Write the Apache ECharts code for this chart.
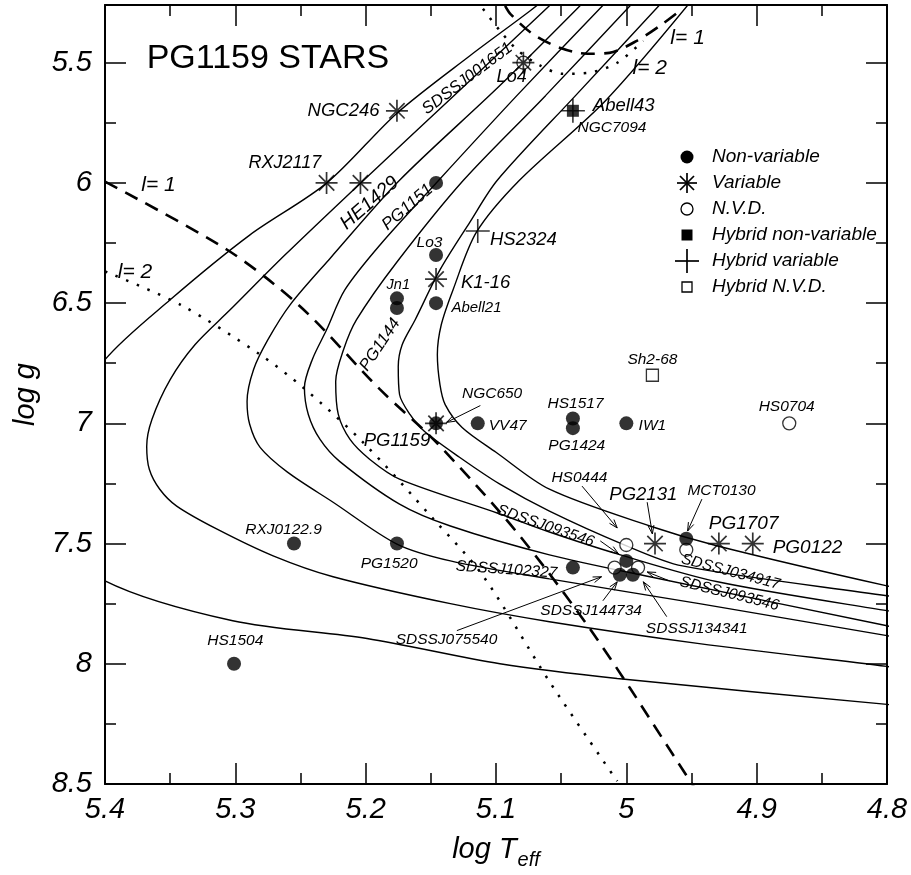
<!DOCTYPE html>
<html>
<head>
<meta charset="utf-8">
<title>PG1159 stars</title>
<script src="https://cdn.jsdelivr.net/npm/echarts@6/dist/echarts.min.js"></script>
<style>
  html, body { margin: 0; padding: 0; background: #fff; }
  #chart { width: 911px; height: 875px; }
</style>
</head>
<body>
<div id="chart"></div>
<script>
const FONT = '"Liberation Sans", Arial, Helvetica, sans-serif';

// evolutionary tracks, [log Teff, log g] (outermost first)
const trackA = [[5.055,5.202],[5.074,5.285],[5.120,5.471],[5.176,5.710],[5.230,6.001],[5.289,6.217],[5.350,6.486],[5.400,6.735],[5.427,6.984],[5.433,7.232],[5.427,7.481],[5.400,7.655],[5.302,7.821],[5.199,7.895],[5.097,8.000],[5.007,8.061],[4.800,8.169],[4.790,8.173]];
const trackB = [[5.051,5.222],[5.128,5.616],[5.204,6.001],[5.262,6.300],[5.304,6.528],[5.331,6.673],[5.350,6.818],[5.364,6.984],[5.368,7.096],[5.366,7.191],[5.358,7.274],[5.345,7.344],[5.314,7.440],[5.271,7.551],[5.225,7.638],[5.135,7.750],[5.059,7.825],[4.944,7.916],[4.800,8.011],[4.790,8.020]];
const trackC = [[5.028,5.222],[5.097,5.595],[5.174,5.989],[5.227,6.312],[5.258,6.507],[5.275,6.652],[5.286,6.776],[5.291,6.909],[5.289,7.004],[5.281,7.100],[5.260,7.203],[5.225,7.328],[5.176,7.502],[5.135,7.572],[5.059,7.647],[4.944,7.750],[4.800,7.883],[4.790,7.891]];
const trackD = [[5.011,5.222],[5.084,5.637],[5.146,6.001],[5.189,6.258],[5.216,6.445],[5.230,6.611],[5.241,6.735],[5.247,6.851],[5.244,6.963],[5.235,7.067],[5.220,7.158],[5.174,7.336],[5.135,7.427],[5.059,7.547],[4.982,7.638],[4.800,7.842],[4.790,7.850]];
const trackE = [[4.990,5.222],[5.062,5.637],[5.125,5.989],[5.176,6.329],[5.207,6.569],[5.217,6.694],[5.223,6.826],[5.221,6.963],[5.212,7.067],[5.197,7.149],[5.174,7.232],[5.097,7.377],[5.059,7.452],[5.007,7.543],[4.930,7.659],[4.800,7.779],[4.790,7.783]];
const trackF = [[4.968,5.222],[5.039,5.637],[5.099,5.989],[5.120,6.163],[5.143,6.362],[5.162,6.569],[5.172,6.673],[5.175,6.764],[5.174,6.880],[5.166,6.963],[5.155,7.033],[5.128,7.141],[5.097,7.253],[5.059,7.365],[5.003,7.502],[4.957,7.593],[4.800,7.717],[4.790,7.725]];
const trackG = [[4.947,5.222],[5.016,5.658],[5.082,5.989],[5.115,6.205],[5.133,6.445],[5.142,6.590],[5.145,6.714],[5.143,6.839],[5.139,6.922],[5.126,7.017],[5.100,7.120],[5.059,7.274],[4.982,7.427],[4.930,7.510],[4.800,7.676],[4.790,7.680]];
const tracks = [trackA, trackB, trackC, trackD, trackE, trackF, trackG];

// blue edges of the instability strip
const edgeL1Low = [[5.400,5.995],[5.306,6.279],[5.250,6.515],[5.189,6.859],[5.148,7.067],[5.097,7.369],[5.066,7.576],[5.028,7.854],[4.997,8.103],[4.949,8.505],[4.945,8.530]];
const edgeL1High = [[5.093,5.264],[5.089,5.297],[5.072,5.380],[5.051,5.438],[5.030,5.463],[5.013,5.459],[4.992,5.409],[4.972,5.338],[4.957,5.276]];
const edgeL2Low = [[5.400,6.368],[5.342,6.507],[5.281,6.714],[5.248,6.851],[5.202,7.079],[5.148,7.398],[5.110,7.634],[5.059,8.074],[5.007,8.488]];
const edgeL2High = [[5.110,5.276],[5.097,5.367],[5.083,5.450],[5.066,5.512],[5.049,5.546],[5.028,5.541],[5.007,5.500],[4.987,5.409]];

// stars, [log Teff, log g]
const nonVariable = [[5.146,6.0],[5.146,6.3],[5.146,6.5],[5.176,6.48],[5.176,6.52],[5.146,7.0],[5.114,7.0],[5.041,6.98],[5.041,7.02],[5.0,7.0],[5.255,7.5],[5.176,7.5],[5.301,8.0],[5.041,7.6],[4.954,7.48],[5.0,7.572],[5.005,7.63],[4.995,7.63]];
const variable = [[5.176,5.7],[5.230,6.0],[5.204,6.0],[5.079,5.5],[5.146,6.4],[5.146,7.0],[4.978,7.5],[4.929,7.5],[4.903,7.5]];
const nvd = [[5.079,5.5],[4.875,7.0],[5.0,7.506],[4.954,7.526],[5.009,7.6],[4.991,7.6]];
const hybridNonVariable = [[5.041,5.7]];
const hybridVariable = [[5.041,5.7],[5.114,6.2]];
const hybridNvd = [[4.980,6.8]];

const classNames = ['Non-variable', 'Variable', 'N.V.D.', 'Hybrid non-variable', 'Hybrid variable', 'Hybrid N.V.D.'];

// pointer arrows: from [T, g] to [T, g]
const arrows = [
  [5.112,6.926,5.138,6.996],
  [5.034,7.261,5.007,7.435],
  [4.984,7.328,4.980,7.460],
  [4.942,7.315,4.953,7.448],
  [5.020,7.489,5.006,7.543],
  [4.967,7.655,4.984,7.618],
  [5.018,7.738,5.007,7.659],
  [4.969,7.804,4.987,7.659],
  [5.130,7.862,5.019,7.638]
];

// text annotations: text, anchor [T, g], font size, rotation (deg)
const labels = [
  { text: 'NGC246', at: [5.217,5.699], size: 18.5 },
  { text: 'RXJ2117', at: [5.262,5.919], size: 18 },
  { text: 'HE1429', at: [5.197,6.084], size: 19.5, rot: 41 },
  { text: 'PG1151', at: [5.168,6.101], size: 17, rot: 41 },
  { text: 'SDSSJ001651', at: [5.122,5.566], size: 16.5, rot: 37 },
  { text: 'Lo4', at: [5.088,5.558], size: 18 },
  { text: 'Abell43', at: [5.002,5.678], size: 18.5 },
  { text: 'NGC7094', at: [5.011,5.769], size: 15.5 },
  { text: 'Lo3', at: [5.151,6.250], size: 15.5 },
  { text: 'K1-16', at: [5.108,6.416], size: 18.5 },
  { text: 'HS2324', at: [5.079,6.238], size: 18.5 },
  { text: 'Jn1', at: [5.175,6.424], size: 14.5 },
  { text: 'Abell21', at: [5.115,6.519], size: 15 },
  { text: 'PG1144', at: [5.189,6.673], size: 16.5, rot: 56 },
  { text: 'NGC650', at: [5.103,6.876], size: 15.5 },
  { text: 'VV47', at: [5.091,7.009], size: 15.5 },
  { text: 'PG1159', at: [5.176,7.071], size: 18.5 },
  { text: 'HS1517', at: [5.039,6.917], size: 15.5 },
  { text: 'PG1424', at: [5.038,7.091], size: 15.5 },
  { text: 'IW1', at: [4.980,7.009], size: 15.5 },
  { text: 'Sh2-68', at: [4.980,6.735], size: 15.5 },
  { text: 'HS0704', at: [4.877,6.930], size: 15.5 },
  { text: 'HS0444', at: [5.036,7.228], size: 15.5 },
  { text: 'PG2131', at: [4.987,7.299], size: 18.5 },
  { text: 'MCT0130', at: [4.927,7.278], size: 15.5 },
  { text: 'PG1707', at: [4.910,7.419], size: 19 },
  { text: 'PG0122', at: [4.861,7.518], size: 19 },
  { text: 'SDSSJ093546', at: [5.062,7.427], size: 15.5, rot: -19 },
  { text: 'SDSSJ102327', at: [5.092,7.609], size: 15.5, rot: -4 },
  { text: 'SDSSJ034917', at: [4.920,7.618], size: 15.5, rot: -15 },
  { text: 'SDSSJ093546', at: [4.921,7.709], size: 15.5, rot: -14 },
  { text: 'SDSSJ144734', at: [5.027,7.779], size: 15.5 },
  { text: 'SDSSJ134341', at: [4.946,7.854], size: 15.5 },
  { text: 'SDSSJ075540', at: [5.138,7.900], size: 15.5 },
  { text: 'RXJ0122.9', at: [5.263,7.444], size: 15.5 },
  { text: 'PG1520', at: [5.182,7.585], size: 15.5 },
  { text: 'HS1504', at: [5.300,7.904], size: 15.5 },
  { text: 'l= 1', at: [5.359,6.010], size: 21 },
  { text: 'l= 2', at: [5.377,6.370], size: 21 },
  { text: 'l= 1', at: [4.953,5.396], size: 21 },
  { text: 'l= 2', at: [4.982,5.521], size: 21 },
  { text: 'PG1159 STARS', at: [5.275,5.483], size: 34, upright: true }
];

const xTicks = { min: 4.8, max: 5.4, step: 0.1 };
const yMajor = [5.5, 6, 6.5, 7, 7.5, 8, 8.5];
const yMinor = [5.75, 6.25, 6.75, 7.25, 7.75, 8.25];

const STAR_PATH = 'path://M10 0L10 20M0 10L20 10M3 3L17 17M3 17L17 3';
const PLUS_PATH = 'path://M10 0L10 20M0 10L20 10';

const chart = echarts.init(document.getElementById('chart'), null, { renderer: 'canvas' });

function axisFont(size) {
  return { fontFamily: FONT, fontStyle: 'italic', fontSize: size, color: '#000' };
}

function xAxisDef(position, showLabel) {
  return {
    type: 'value', position, min: xTicks.min, max: xTicks.max, interval: xTicks.step, inverse: true,
    axisLine: { show: true, onZero: false, lineStyle: { color: '#000', width: 2 } },
    axisTick: { inside: true, length: 21, lineStyle: { color: '#000', width: 1.5 } },
    minorTick: { show: true, splitNumber: 2, length: 11, lineStyle: { color: '#000', width: 1.5 } },
    axisLabel: Object.assign({ show: showLabel, margin: 11 }, axisFont(29)),
    splitLine: { show: false }, minorSplitLine: { show: false },
    name: showLabel ? '{a|log T}{b|eff}' : '', nameLocation: 'middle', nameGap: 46,
    nameTextStyle: { rich: { a: axisFont(29), b: Object.assign({ padding: [20, 0, 0, 1] }, axisFont(20)) } }
  };
}

function yAxisDef(position, values, len, showLine, showLabel) {
  return {
    type: 'value', position, min: 5.26, max: 8.5, inverse: true,
    axisLine: { show: showLine, onZero: false, lineStyle: { color: '#000', width: 2 } },
    axisTick: { show: true, inside: true, length: len, customValues: values, lineStyle: { color: '#000', width: 1.5 } },
    axisLabel: Object.assign({ show: showLabel, margin: 13, customValues: values }, axisFont(29)),
    splitLine: { show: false },
    name: showLabel ? 'log g' : '', nameLocation: 'middle', nameRotate: 90, nameGap: 64,
    nameTextStyle: axisFont(29)
  };
}

function labelItem(params, api) {
  const lab = labels[params.dataIndex];
  const p = api.coord([api.value(0), api.value(1)]);
  return {
    type: 'text', x: p[0], y: p[1], rotation: (lab.rot || 0) * Math.PI / 180,
    style: {
      text: lab.text, fill: '#000', fontFamily: FONT, fontSize: lab.size,
      fontStyle: lab.upright ? 'normal' : 'italic',
      align: 'center', verticalAlign: 'middle'
    }
  };
}

function arrowItem(params, api) {
  const a = api.coord([api.value(0), api.value(1)]);
  const b = api.coord([api.value(2), api.value(3)]);
  const ang = Math.atan2(b[1] - a[1], b[0] - a[0]);
  const len = 9, spread = 0.33;
  const h1 = [b[0] - len * Math.cos(ang - spread), b[1] - len * Math.sin(ang - spread)];
  const h2 = [b[0] - len * Math.cos(ang + spread), b[1] - len * Math.sin(ang + spread)];
  return {
    type: 'group',
    children: [
      { type: 'line', shape: { x1: a[0], y1: a[1], x2: b[0], y2: b[1] }, style: { stroke: '#000', lineWidth: 1 } },
      { type: 'polyline', shape: { points: [h1, b, h2] }, style: { stroke: '#000', fill: null, lineWidth: 1 } }
    ]
  };
}

function lineSeries(data, style) {
  return {
    type: 'line', data, showSymbol: false, symbol: 'none', smooth: 0.3, silent: true, z: 2,
    clip: true, lineStyle: Object.assign({ color: '#000', width: 1.4 }, style || {})
  };
}

// hand-drawn legend, placed as in the figure
function strokes(segs, y) {
  return {
    type: 'group', x: 687, y,
    children: segs.map(s => ({ type: 'line', shape: { x1: s[0], y1: s[1], x2: s[2], y2: s[3] }, style: { stroke: '#000', lineWidth: 1.7 } }))
  };
}
const legendShapes = [
  y => ({ type: 'circle', shape: { cx: 687, cy: y, r: 6.5 }, style: { fill: '#000' } }),
  y => strokes([[0, -10, 0, 10], [-10, 0, 10, 0], [-7, -7, 7, 7], [-7, 7, 7, -7]], y),
  y => ({ type: 'circle', shape: { cx: 687, cy: y, r: 6 }, style: { fill: '#fff', stroke: '#000', lineWidth: 1.3 } }),
  y => ({ type: 'rect', shape: { x: 681.5, y: y - 5.5, width: 11, height: 11 }, style: { fill: '#000' } }),
  y => strokes([[0, -12, 0, 12], [-12, 0, 12, 0]], y),
  y => ({ type: 'rect', shape: { x: 682, y: y - 5, width: 10, height: 10 }, style: { fill: '#fff', stroke: '#000', lineWidth: 1.3 } })
];
const legendGraphic = [];
classNames.forEach((name, i) => {
  const y = 157 + i * 26;
  legendGraphic.push(legendShapes[i](y));
  legendGraphic.push({ type: 'text', x: 712, y, style: { text: name, fill: '#000', fontFamily: FONT, fontStyle: 'italic', fontSize: 19, verticalAlign: 'middle' } });
});

const option = {
  animation: false,
  backgroundColor: '#fff',
  grid: { left: 105, top: 5, width: 782, height: 782, containLabel: false },
  xAxis: [xAxisDef('bottom', true), xAxisDef('top', false)],
  yAxis: [
    yAxisDef('left', yMajor, 21, true, true),
    yAxisDef('left', yMinor, 11, false, false),
    yAxisDef('right', yMajor, 21, true, false),
    yAxisDef('right', yMinor, 11, false, false)
  ],
  graphic: legendGraphic,
  series: [
    ...tracks.map(t => lineSeries(t)),
    lineSeries(edgeL1Low, { width: 2.6, type: [14, 9] }),
    lineSeries(edgeL1High, { width: 2.6, type: [14, 9] }),
    lineSeries(edgeL2Low, { width: 2.5, type: [2.5, 9] }),
    lineSeries(edgeL2High, { width: 2.5, type: [2.5, 9] }),
    { name: classNames[2], type: 'scatter', data: nvd, symbol: 'circle', symbolSize: 13, z: 3,
      itemStyle: { color: '#fff', borderColor: '#000', borderWidth: 1.3 } },
    { name: classNames[5], type: 'scatter', data: hybridNvd, symbol: 'rect', symbolSize: 12, z: 3,
      itemStyle: { color: '#fff', borderColor: '#000', borderWidth: 1.3 } },
    { name: classNames[0], type: 'scatter', data: nonVariable, symbol: 'circle', symbolSize: 14, z: 4,
      itemStyle: { color: '#000' } },
    { name: classNames[3], type: 'scatter', data: hybridNonVariable, symbol: 'rect', symbolSize: 12, z: 4,
      itemStyle: { color: '#000' } },
    { name: classNames[1], type: 'scatter', data: variable, symbol: STAR_PATH, symbolSize: 22, z: 5,
      itemStyle: { color: '#000', borderColor: '#000', borderWidth: 1.7 } },
    { name: classNames[4], type: 'scatter', data: hybridVariable, symbol: PLUS_PATH, symbolSize: 24, z: 5,
      itemStyle: { color: '#000', borderColor: '#000', borderWidth: 1.6 } },
    { type: 'custom', data: arrows, renderItem: arrowItem, encode: { x: [0, 2], y: [1, 3] }, z: 6, silent: true, clip: false },
    { type: 'custom', data: labels.map(l => l.at), renderItem: labelItem, encode: { x: 0, y: 1 }, z: 7, silent: true, clip: false }
  ]
};

chart.setOption(option);
</script>
</body>
</html>
